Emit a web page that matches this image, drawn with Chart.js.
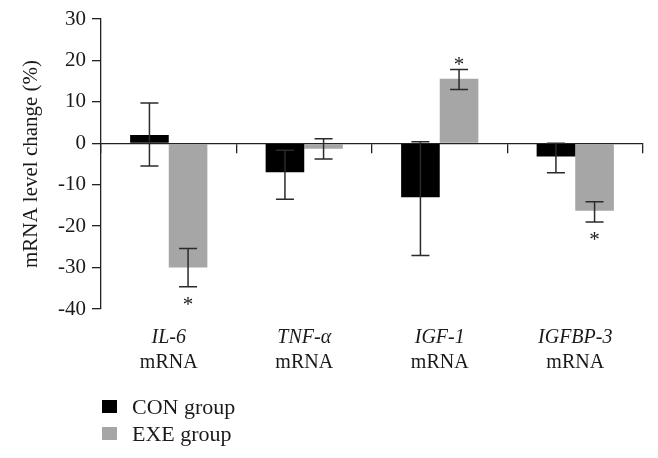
<!DOCTYPE html>
<html>
<head>
<meta charset="utf-8">
<script src="https://cdn.jsdelivr.net/npm/chart.js@4/dist/chart.umd.min.js"></script>
<style>
  body { margin: 0; background: #fff; }
  #wrap { position: relative; width: 658px; height: 458px; }
  #legend { position: absolute; left: 102px; top: 393px; font: 22px "Liberation Serif", serif; color: #1a1a1a; }
  .row { display: flex; align-items: center; height: 27px; }
  .swatch { width: 15px; height: 13px; margin-right: 15px; }
</style>
</head>
<body>
<div id="wrap">
  <canvas id="chart" width="658" height="458"></canvas>
  <div id="legend"></div>
</div>
<script>
// gene names (italic line) and second label line
const genes = ["IL-6", "TNF-\u03b1", "IGF-1", "IGFBP-3"];
const secondLine = ["mRNA", "mRNA", "mRNA", "mRNA"];

// mean change (%)
const conValues = [2, -7, -13, -3.2];
const exeValues = [-30, -1.3, 15.6, -16.3];

// error bar ends
const conLow = [-5.5, -13.5, -27.1, -7.1];
const conHigh = [9.7, -1.7, 0.4, 0];
const exeLow = [-34.6, -3.8, 13.0, -19.0];
const exeHigh = [-25.4, 1.1, 17.8, -14.1];

// significance marks on EXE group
const exeSig = [true, false, true, true];

const yTicks = [30, 20, 10, 0, -10, -20, -30, -40];

const ink = "#1a1a1a";
const serif = "'Liberation Serif', serif";

const errorBars = {
  id: "errorBars",
  afterDatasetsDraw(chart) {
    const ctx = chart.ctx;
    const y = chart.scales.y;
    const ends = [[conLow, conHigh], [exeLow, exeHigh]];
    ctx.save();
    ctx.strokeStyle = "#2a2a2a";
    ctx.lineWidth = 1.5;
    ends.forEach(([lo, hi], d) => {
      const meta = chart.getDatasetMeta(d);
      meta.data.forEach((bar, i) => {
        const x = bar.x;
        const y1 = y.getPixelForValue(lo[i]);
        const y2 = y.getPixelForValue(hi[i]);
        ctx.beginPath();
        ctx.moveTo(x, y1); ctx.lineTo(x, y2);
        ctx.moveTo(x - 9, y1); ctx.lineTo(x + 9, y1);
        ctx.moveTo(x - 9, y2); ctx.lineTo(x + 9, y2);
        ctx.stroke();
      });
    });
    // asterisks
    ctx.fillStyle = ink;
    ctx.font = "21px " + serif;
    ctx.textAlign = "center";
    ctx.textBaseline = "alphabetic";
    const m = ctx.measureText("*");
    const mid = (m.actualBoundingBoxAscent - m.actualBoundingBoxDescent) / 2;
    const meta = chart.getDatasetMeta(1);
    exeSig.forEach((sig, i) => {
      if (!sig) return;
      const x = meta.data[i].x;
      let yc;
      if (exeValues[i] < 0) yc = y.getPixelForValue(exeLow[i]) + 14;
      else yc = y.getPixelForValue(exeHigh[i]) - 9;
      ctx.fillText("*", x, yc + mid);
    });
    ctx.restore();
  }
};

const chart = new Chart(document.getElementById("chart"), {
  type: "bar",
  data: {
    labels: genes,
    datasets: [
      { label: "CON group", data: conValues, backgroundColor: "#000000", borderWidth: 0 },
      { label: "EXE group", data: exeValues, backgroundColor: "#a6a6a6", borderWidth: 0 }
    ]
  },
  options: {
    responsive: false,
    animation: false,
    devicePixelRatio: 1,
    layout: { padding: { top: 19, right: 15, bottom: 86, left: 0 } },
    datasets: { bar: { categoryPercentage: 0.57, barPercentage: 1 } },
    plugins: {
      legend: { display: false },
      tooltip: { enabled: false }
    },
    scales: {
      x: {
        type: "category",
        offset: true,
        afterFit(scale) { scale.height = 39; },
        grid: { display: false, drawTicks: false },
        border: { display: false },
        ticks: {
          color: ink,
          padding: 19,
          maxRotation: 0,
          autoSkip: false,
          font: { family: serif, size: 20, style: "italic", lineHeight: 1 }
        }
      },
      x2: {
        type: "category",
        axis: "x",
        labels: secondLine,
        position: "bottom",
        offset: true,
        afterFit(scale) { scale.height = 24; },
        grid: { display: false, drawTicks: false },
        border: { display: false },
        ticks: {
          color: ink,
          padding: 5,
          maxRotation: 0,
          autoSkip: false,
          font: { family: serif, size: 20, lineHeight: 1 }
        }
      },
      zero: {
        type: "category",
        axis: "x",
        labels: genes,
        position: { y: 0 },
        offset: true,
        z: 1,
        grid: { offset: true, drawOnChartArea: false, drawTicks: true, tickLength: 9, color: "#222", lineWidth: 1.3 },
        border: { display: true, color: "#222", width: 1.3 },
        ticks: { display: false }
      },
      y: {
        min: -40,
        max: 30,
        afterFit(scale) { scale.width = 101; },
        afterBuildTicks(scale) { scale.ticks = yTicks.map(v => ({ value: v })); },
        grid: { drawOnChartArea: false, drawTicks: true, tickLength: 9, color: "#222", lineWidth: 1.3 },
        border: { display: true, color: "#222", width: 1.3 },
        ticks: {
          color: ink,
          padding: 6,
          font: { family: serif, size: 21, lineHeight: 1 }
        },
        title: {
          display: true,
          text: "mRNA level change (%)",
          color: ink,
          padding: { top: 19, bottom: 0 },
          font: { family: serif, size: 21 }
        }
      }
    }
  },
  plugins: [errorBars]
});

// legend as html rows built from the datasets
const legend = document.getElementById("legend");
chart.data.datasets.forEach(ds => {
  const row = document.createElement("div");
  row.className = "row";
  const sw = document.createElement("span");
  sw.className = "swatch";
  sw.style.background = ds.backgroundColor;
  const txt = document.createElement("span");
  txt.textContent = ds.label;
  row.appendChild(sw);
  row.appendChild(txt);
  legend.appendChild(row);
});
</script>
</body>
</html>
